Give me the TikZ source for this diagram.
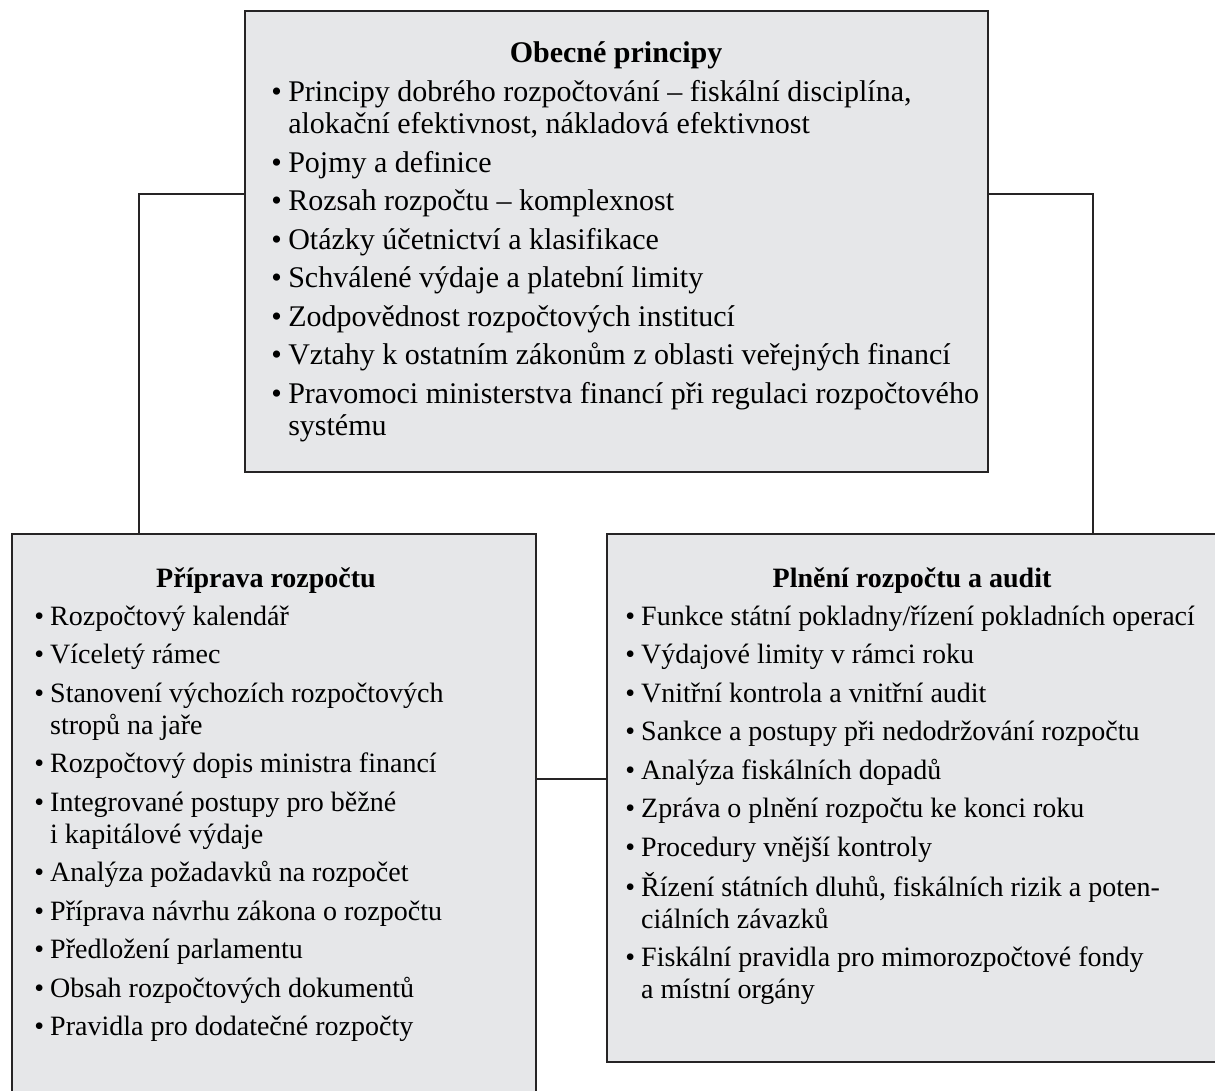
\documentclass[tikz,border=0pt]{standalone}
\usepackage{fontspec}
\setmainfont{Liberation Serif}
\usetikzlibrary{fit}
\definecolor{boxfill}{RGB}{230,231,233}
\definecolor{ink}{RGB}{38,36,37}
\tikzset{
  box/.style={draw=ink, line width=1pt, fill=boxfill, inner sep=0pt},
  conn/.style={draw=ink, line width=0.7pt},
  toplist/.style={font=\fontsize{15}{16}\selectfont, anchor=base west, inner sep=0pt},
  sidelist/.style={font=\fontsize{14}{16}\selectfont, anchor=base west, inner sep=0pt},
  tophead/.style={font=\fontsize{15}{16}\selectfont\bfseries, anchor=base, inner sep=0pt},
  sidehead/.style={font=\fontsize{14}{16}\selectfont\bfseries, anchor=base, inner sep=0pt}
}
\begin{document}
\begin{tikzpicture}[x=0.5pt, y=-0.5pt]
  \useasboundingbox (0,0) rectangle (1215,1091);
  \fill[white] (0,0) rectangle (1215,1091);
  \clip (0,0) rectangle (1215,1091);

  % the three boxes
  \node[box, fit={(245,11) (988,472)}] (top) {};
  \node[box, fit={(12,534) (536,1110)}] (left) {};
  \node[box, fit={(607,534) (1230,1062)}] (right) {};

  % connectors
  \coordinate (jl) at (139,194);
  \coordinate (jr) at (1093,194);
  \coordinate (jm) at (570,779);
  \draw[conn] (top.west |- jl) -- (jl) -- (jl |- left.north);
  \draw[conn] (top.east |- jr) -- (jr) -- (jr |- right.north);
  \draw[conn] (left.east |- jm) -- (right.west |- jm);

  % general principles
  \node[tophead] (tophd) at (616,63) {Obecné principy};
  \node[toplist] (toplst) at (271,102) {\begin{tabular}[t]{@{}l@{\hspace{3.2pt}}l@{}}
    \textbullet & Principy dobrého rozpočtování – fiskální disciplína,\\
      & alokační efektivnost, nákladová efektivnost\\[3.25pt]
    \textbullet & Pojmy a definice\\[3.25pt]
    \textbullet & Rozsah rozpočtu – komplexnost\\[3.25pt]
    \textbullet & Otázky účetnictví a klasifikace\\[3.25pt]
    \textbullet & Schválené výdaje a platební limity\\[3.25pt]
    \textbullet & Zodpovědnost rozpočtových institucí\\[3.25pt]
    \textbullet & Vztahy k ostatním zákonům z oblasti veřejných financí\\[3.25pt]
    \textbullet & Pravomoci ministerstva financí při regulaci rozpočtového\\
      & systému
  \end{tabular}};

  % budget preparation
  \node[sidehead] (lefthd) at (266,587) {Příprava rozpočtu};
  \node[sidelist] (leftlst) at (34,625) {\begin{tabular}[t]{@{}l@{\hspace{3pt}}l@{}}
    \textbullet & Rozpočtový kalendář\\[3.25pt]
    \textbullet & Víceletý rámec\\[3.25pt]
    \textbullet & Stanovení výchozích rozpočtových\\
      & stropů na jaře\\[3.25pt]
    \textbullet & Rozpočtový dopis ministra financí\\[3.25pt]
    \textbullet & Integrované postupy pro běžné\\
      & i kapitálové výdaje\\[3.25pt]
    \textbullet & Analýza požadavků na rozpočet\\[3.25pt]
    \textbullet & Příprava návrhu zákona o rozpočtu\\[3.25pt]
    \textbullet & Předložení parlamentu\\[3.25pt]
    \textbullet & Obsah rozpočtových dokumentů\\[3.25pt]
    \textbullet & Pravidla pro dodatečné rozpočty
  \end{tabular}};

  % execution and audit
  \node[sidehead] (righthd) at (912,587) {Plnění rozpočtu a audit};
  \node[sidelist] (rightlst) at (625,625) {\begin{tabular}[t]{@{}l@{\hspace{3pt}}l@{}}
    \textbullet & Funkce státní pokladny/řízení pokladních operací\\[3.25pt]
    \textbullet & Výdajové limity v rámci roku\\[3.25pt]
    \textbullet & Vnitřní kontrola a vnitřní audit\\[3.25pt]
    \textbullet & Sankce a postupy při nedodržování rozpočtu\\[3.25pt]
    \textbullet & Analýza fiskálních dopadů\\[3.25pt]
    \textbullet & Zpráva o plnění rozpočtu ke konci roku\\[3.25pt]
    \textbullet & Procedury vnější kontroly\\[3.25pt]
    \textbullet & Řízení státních dluhů, fiskálních rizik a poten-\\
      & ciálních závazků\\[3.25pt]
    \textbullet & Fiskální pravidla pro mimorozpočtové fondy\\
      & a místní orgány
  \end{tabular}};
\end{tikzpicture}
\end{document}
